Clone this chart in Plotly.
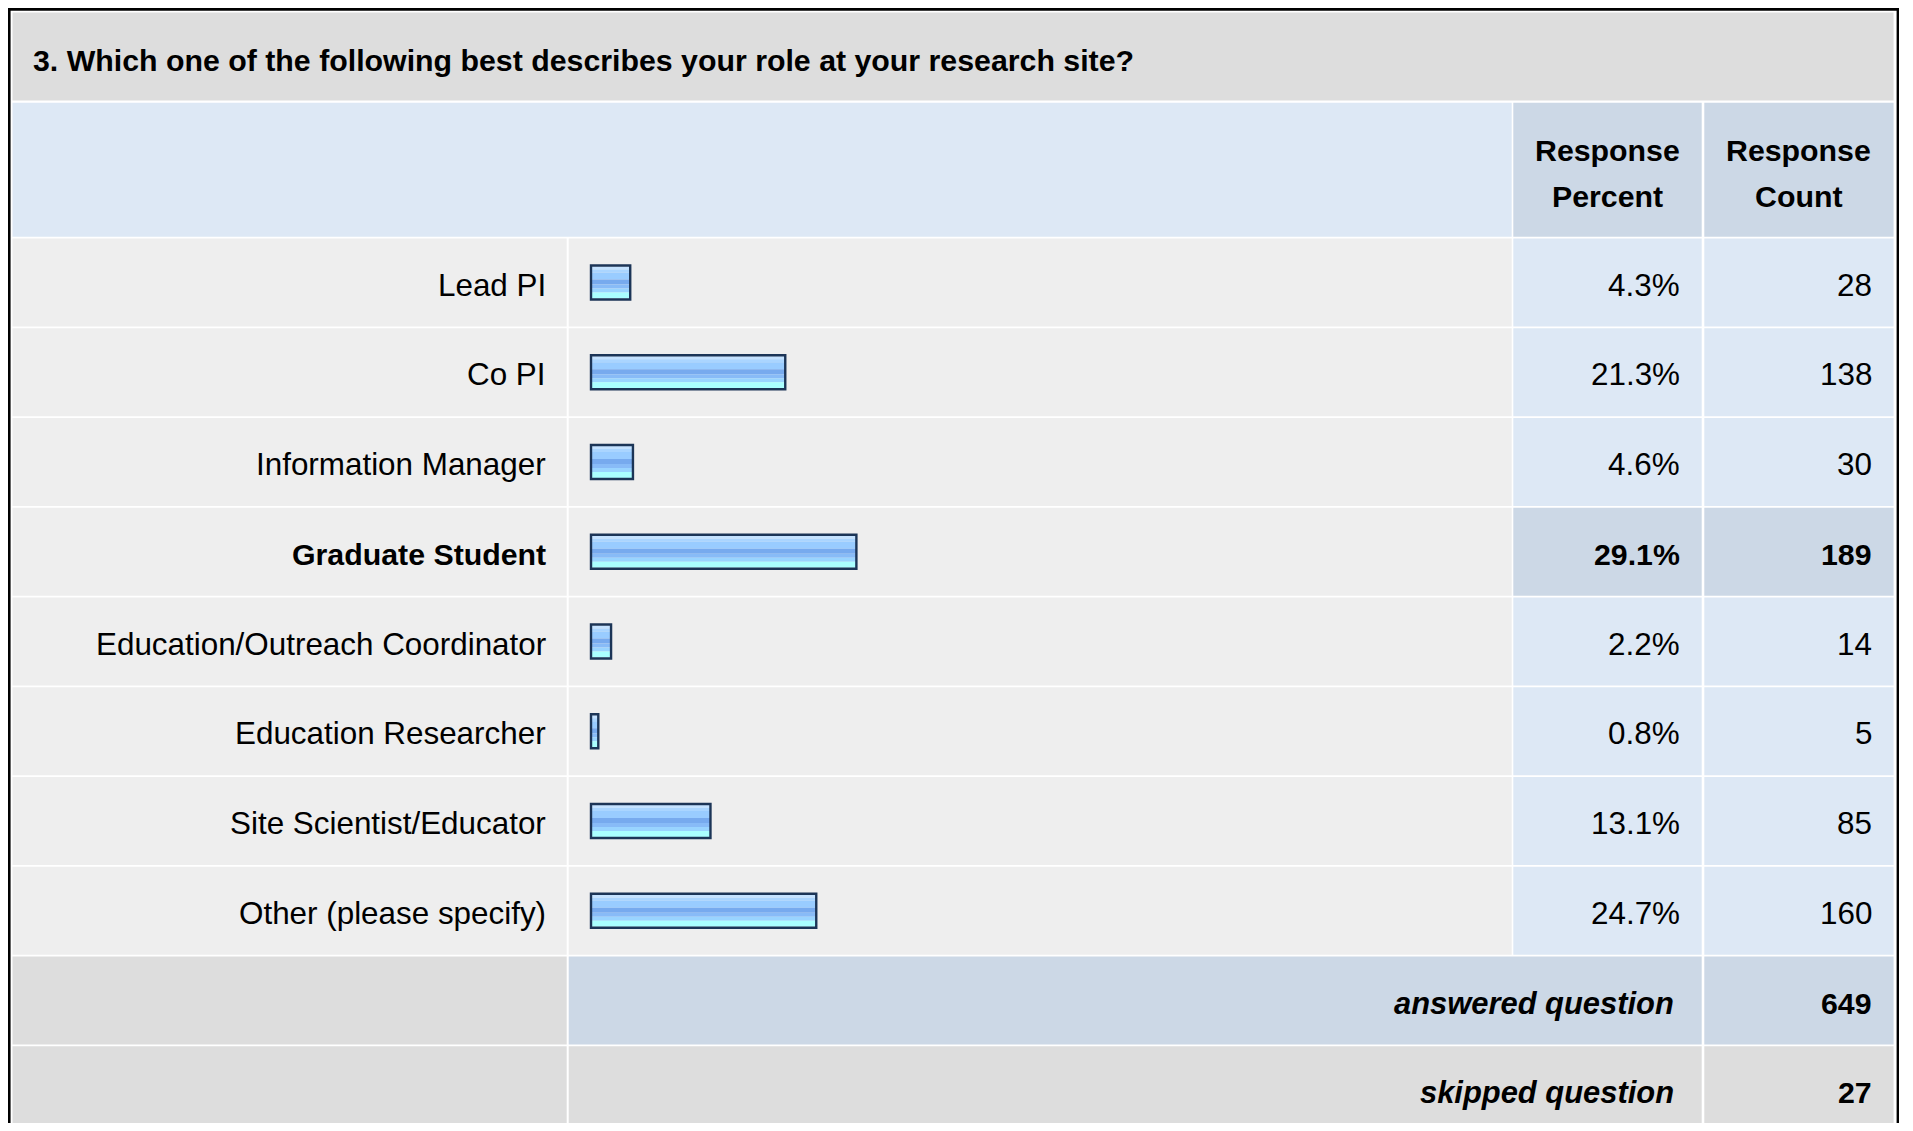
import plotly.graph_objects as go

# ---------------- data ----------------
question = "3. Which one of the following best describes your role at your research site?"
roles = ["Lead PI", "Co PI", "Information Manager", "Graduate Student",
         "Education/Outreach Coordinator", "Education Researcher",
         "Site Scientist/Educator", "Other (please specify)"]
percents = [4.3, 21.3, 4.6, 29.1, 2.2, 0.8, 13.1, 24.7]
counts = [28, 138, 30, 189, 14, 5, 85, 160]
col_headers = [["Response", "Percent"], ["Response", "Count"]]
answered_label, answered_count = "answered question", 649
skipped_label, skipped_count = "skipped question", 27

# ---------------- geometry (page pixels) ----------------
W, H = 1897, 1115          # figure size; page body margin of 8px
OFF = 8
ROW0_TOP = 238.5
PITCH = 89.75
CELL_H = 88.0
COL_LABEL = (12.5, 566.7)
COL_BAR = (568.7, 1511.7)
COL_PCT = (1513.3, 1701.7)
COL_CNT = (1704.3, 1893.6)
BAR_X0 = 591.0              # page x of value 0
SCALE = 9.12               # px per percent
TXT_DY = 2.5

FONT = "Liberation Sans, Arial, Helvetica, sans-serif"
FS = 31.4
FSB = 30.3
FSBI = 30.9

C_TITLE = "#dddddd"
C_LIGHT = "#eeeeee"
C_BLUE = "#dde8f5"
C_BLUE2 = "#ccd8e6"
C_GRAY = "#dddddd"


def px(x):
    return (x - OFF) / W


def py(y):
    return 1 - (y - OFF) / H


shapes = []


def rect(x0, y0, x1, y1, color):
    shapes.append(dict(type="rect", xref="paper", yref="paper",
                       x0=px(x0), x1=px(x1), y0=py(y1), y1=py(y0),
                       fillcolor=color, line=dict(width=0), layer="below"))


annotations = []


def text(x, y, s, anchor="right", bold=False, size=None):
    if size is None:
        size = FSB if bold else FS
    annotations.append(dict(xref="paper", yref="paper", x=px(x), y=py(y + TXT_DY),
                            text=("<b>%s</b>" % s) if bold else s,
                            showarrow=False, xanchor=anchor,
                            yanchor="middle", borderpad=0,
                            font=dict(family=FONT, size=size, color="#000000")))


# outer border
rect(8, 8, 1899, 1300, "#000000")
rect(10.6, 10.8, 1896.6, 1300, "#ffffff")

# title
rect(12.5, 12.5, 1893.6, 100.5, C_TITLE)
text(32, 58.5, question, anchor="left", bold=True)

# header
rect(COL_LABEL[0], 102.8, COL_BAR[1], 236.8, C_BLUE)
rect(COL_PCT[0], 102.8, COL_PCT[1], 236.8, C_BLUE2)
rect(COL_CNT[0], 102.8, COL_CNT[1], 236.8, C_BLUE2)
for col, hdr in zip([COL_PCT, COL_CNT], col_headers):
    cx = (col[0] + col[1]) / 2
    text(cx, 148, hdr[0], anchor="center", bold=True)
    text(cx, 194, hdr[1], anchor="center", bold=True)

top_idx = counts.index(max(counts))

for i, (r, p, c) in enumerate(zip(roles, percents, counts)):
    t = ROW0_TOP + PITCH * i
    b = t + CELL_H
    cy = t + CELL_H / 2
    hi = (i == top_idx)
    rect(COL_LABEL[0], t, COL_LABEL[1], b, C_LIGHT)
    rect(COL_BAR[0], t, COL_BAR[1], b, C_LIGHT)
    rect(COL_PCT[0], t, COL_PCT[1], b, C_BLUE2 if hi else C_BLUE)
    rect(COL_CNT[0], t, COL_CNT[1], b, C_BLUE2 if hi else C_BLUE)
    text(COL_LABEL[1] - 20, cy, r, bold=hi)
    text(COL_PCT[1] - 20.5, cy, "%.1f%%" % p, bold=hi)
    text(COL_CNT[1] - 20.5, cy, str(c), bold=hi)

# summary rows
n = len(roles)
t = ROW0_TOP + PITCH * n
b = t + CELL_H
cy = t + CELL_H / 2
rect(COL_LABEL[0], t, COL_LABEL[1], b, C_GRAY)
rect(COL_BAR[0], t, COL_PCT[1], b, C_BLUE2)
rect(COL_CNT[0], t, COL_CNT[1], b, C_BLUE2)
text(COL_PCT[1] - 27, cy, "<i>%s</i>" % answered_label, bold=True, size=FSBI)
text(COL_CNT[1] - 20.5, cy, "%d" % answered_count, bold=True)

t = ROW0_TOP + PITCH * (n + 1)
cy = t + CELL_H / 2
rect(COL_LABEL[0], t, COL_LABEL[1], 1300, C_GRAY)
rect(COL_BAR[0], t, COL_PCT[1], 1300, C_GRAY)
rect(COL_CNT[0], t, COL_CNT[1], 1300, C_GRAY)
text(COL_PCT[1] - 27, cy, "<i>%s</i>" % skipped_label, bold=True, size=FSBI)
text(COL_CNT[1] - 20.5, cy, "%d" % skipped_count, bold=True)

# ---------------- bars (through axes) ----------------
u = 1.0 / PITCH   # one pixel in category units
stripes = [(0, 3, "#c4e2ff"), (3, 6, "#aad5ff"), (6, 13, "#99ccff"),
           (13, 18, "#77aaee"), (18, 22, "#88bbf7"), (22, 26, "#99d4ff"),
           (26, 32, "#aaffff")]

fig = go.Figure()
for a, bb, col in stripes:
    fig.add_trace(go.Bar(x=percents, y=roles, orientation="h",
                         width=(bb - a) * u, offset=(a - 16) * u,
                         marker=dict(color=col, line=dict(width=0)),
                         hoverinfo="skip", showlegend=False))
fig.add_trace(go.Bar(x=percents, y=roles, orientation="h",
                     width=34 * u, offset=-17 * u,
                     marker=dict(color="rgba(0,0,0,0)",
                                 line=dict(width=2.4, color="#1c3557")),
                     hoverinfo="skip", showlegend=False))

x0f = BAR_X0 - OFF
center0 = ROW0_TOP + CELL_H / 2 - OFF
fig.update_layout(
    width=W, height=H,
    margin=dict(l=0, r=0, t=0, b=0, pad=0),
    paper_bgcolor="#ffffff", plot_bgcolor="rgba(0,0,0,0)",
    barmode="overlay",
    xaxis=dict(range=[-x0f / SCALE, (W - x0f) / SCALE], visible=False,
               fixedrange=True),
    yaxis=dict(type="category", categoryorder="array", categoryarray=roles,
               range=[(H - center0) * u, -center0 * u], visible=False,
               fixedrange=True),
    shapes=shapes, annotations=annotations,
    showlegend=False,
)
fig.write_html("out.html", config={"displayModeBar": False})
